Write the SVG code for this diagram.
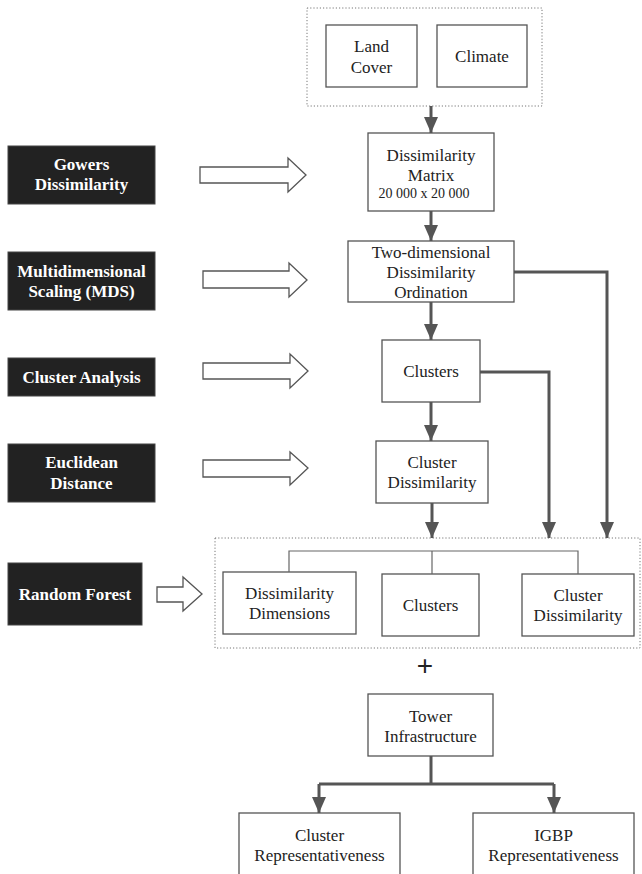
<svg xmlns="http://www.w3.org/2000/svg" width="642" height="874" viewBox="0 0 642 874">
<style>
.bg{fill:#fff}
.box{fill:#fff;stroke:#555;stroke-width:1.3}
.dark{fill:#222;stroke:#444;stroke-width:1}
.dot{fill:none;stroke:#777;stroke-width:1;stroke-dasharray:1.2 2}
.t{font-family:"Liberation Serif","Times New Roman",serif;font-size:17px;fill:#222;text-anchor:middle}
.s{font-size:14px}
.w{font-family:"Liberation Serif","Times New Roman",serif;font-size:17px;font-weight:bold;fill:#fff;text-anchor:middle}
.hol{fill:#fff;stroke:#555;stroke-width:1.3}
.con{fill:none;stroke:#555;stroke-width:3}
.thin{fill:none;stroke:#666;stroke-width:1.2}
</style>
<defs>
<marker id="ah" markerUnits="userSpaceOnUse" markerWidth="16" markerHeight="14" viewBox="0 0 16 14" refX="16" refY="7" orient="auto">
<path d="M0,0 L16,7 L0,14 Z" fill="#555"/>
</marker>
</defs>
<rect class="bg" x="0" y="0" width="642" height="874"/>

<g id="inputs-group">
<rect class="dot" x="307" y="8" width="235" height="98"/>
</g>
<g id="land-cover">
<rect class="box" x="326" y="25" width="91" height="62"/>
<text class="t" x="371.5" y="52">Land</text>
<text class="t" x="371.5" y="73">Cover</text>
</g>
<g id="climate">
<rect class="box" x="437" y="25" width="90" height="62"/>
<text class="t" x="482" y="62">Climate</text>
</g>

<g id="dissimilarity-matrix">
<rect class="box" x="368" y="133" width="126" height="78"/>
<text class="t" x="431" y="161">Dissimilarity</text>
<text class="t" x="431" y="181">Matrix</text>
<text class="t s" x="424" y="198">20 000 x 20 000</text>
</g>
<g id="two-dim">
<rect class="box" x="348" y="241" width="166" height="61"/>
<text class="t" x="431" y="258">Two-dimensional</text>
<text class="t" x="431" y="278">Dissimilarity</text>
<text class="t" x="431" y="298">Ordination</text>
</g>
<g id="clusters">
<rect class="box" x="382" y="340" width="98" height="62"/>
<text class="t" x="431" y="377">Clusters</text>
</g>
<g id="cluster-dissimilarity">
<rect class="box" x="376" y="441" width="112" height="62"/>
<text class="t" x="432" y="468">Cluster</text>
<text class="t" x="432" y="488">Dissimilarity</text>
</g>

<g id="rf-group">
<rect class="dot" x="215" y="538" width="425" height="110"/>
</g>
<g id="rf-dims">
<rect class="box" x="223" y="572" width="133" height="62"/>
<text class="t" x="289.5" y="599">Dissimilarity</text>
<text class="t" x="289.5" y="619">Dimensions</text>
</g>
<g id="rf-clusters">
<rect class="box" x="382" y="574" width="97" height="62"/>
<text class="t" x="430.5" y="611">Clusters</text>
</g>
<g id="rf-cluster-dissimilarity">
<rect class="box" x="522" y="574" width="112" height="62"/>
<text class="t" x="578" y="601">Cluster</text>
<text class="t" x="578" y="621">Dissimilarity</text>
</g>

<g id="plus">
<text x="425" y="675" style="font-family:'Liberation Sans',Arial,sans-serif;font-size:28px;fill:#222;text-anchor:middle">+</text>
</g>

<g id="tower">
<rect class="box" x="368" y="694" width="125" height="62"/>
<text class="t" x="430.5" y="722">Tower</text>
<text class="t" x="430.5" y="742">Infrastructure</text>
</g>
<g id="cluster-rep">
<rect class="box" x="239" y="813" width="161" height="70"/>
<text class="t" x="319.5" y="841">Cluster</text>
<text class="t" x="319.5" y="861">Representativeness</text>
</g>
<g id="igbp-rep">
<rect class="box" x="473" y="813" width="161" height="70"/>
<text class="t" x="553.5" y="841">IGBP</text>
<text class="t" x="553.5" y="861">Representativeness</text>
</g>

<g id="gowers">
<rect class="dark" x="8" y="146" width="147" height="58"/>
<text class="w" x="81.5" y="170">Gowers</text>
<text class="w" x="81.5" y="190">Dissimilarity</text>
</g>
<g id="mds">
<rect class="dark" x="8" y="252" width="147" height="58"/>
<text class="w" x="81.5" y="277">Multidimensional</text>
<text class="w" x="81.5" y="297">Scaling (MDS)</text>
</g>
<g id="cluster-analysis">
<rect class="dark" x="8" y="358" width="147" height="38"/>
<text class="w" x="81.5" y="383">Cluster Analysis</text>
</g>
<g id="euclidean">
<rect class="dark" x="8" y="444" width="147" height="58"/>
<text class="w" x="81.5" y="468">Euclidean</text>
<text class="w" x="81.5" y="489">Distance</text>
</g>
<g id="random-forest">
<rect class="dark" x="8" y="563" width="134" height="62"/>
<text class="w" x="75" y="600">Random Forest</text>
</g>

<g id="connectors">
<polygon class="hol" points="200,167 288,167 288,158 306,175 288,192 288,183 200,183"/>
<polygon class="hol" points="203,271 289,271 289,263 307,280 289,297 289,288 203,288"/>
<polygon class="hol" points="203,363 290,363 290,354 308,371 290,388 290,379 203,379"/>
<polygon class="hol" points="203,460 290,460 290,452 308,468 290,485 290,477 203,477"/>
<polygon class="hol" points="157,587 183,587 183,577 202,594 183,611 183,602 157,602"/>

<path class="con" d="M431,106 V133" marker-end="url(#ah)"/>
<path class="con" d="M431,211 V241" marker-end="url(#ah)"/>
<path class="con" d="M514,272 H607 V538" marker-end="url(#ah)"/>
<path class="con" d="M431,302 V340" marker-end="url(#ah)"/>
<path class="con" d="M480,372 H549 V538" marker-end="url(#ah)"/>
<path class="con" d="M431,402 V441" marker-end="url(#ah)"/>
<path class="con" d="M432,503 V538" marker-end="url(#ah)"/>

<path class="thin" d="M289,572 V551 H578 V574"/>
<path class="thin" d="M432,551 V574"/>

<path class="con" d="M431,756 V784"/>
<path class="con" d="M319,784 H554"/>
<path class="con" d="M319,784 V813" marker-end="url(#ah)"/>
<path class="con" d="M554,784 V813" marker-end="url(#ah)"/>
</g>
</svg>
